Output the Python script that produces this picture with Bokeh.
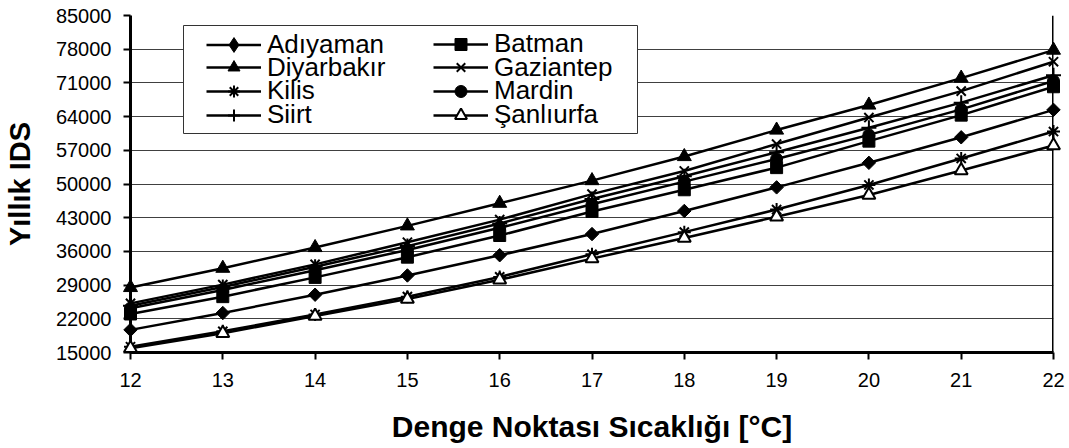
import numpy as np
from bokeh.plotting import figure
from bokeh.models import (Range1d, FixedTicker, Legend, LegendItem, Span, BoxAnnotation,
                          ColumnDataSource)
from bokeh.embed import file_html
from bokeh.resources import INLINE

# ---------------- data ----------------
temps = [12, 13, 14, 15, 16, 17, 18, 19, 20, 21, 22]
adiyaman   = [19700, 23200, 27000, 31000, 35200, 39600, 44400, 49300, 54400, 59700, 65400]
batman     = [23000, 26600, 30600, 34800, 39300, 44300, 48800, 53400, 58900, 64300, 70200]
diyarbakir = [28500, 32500, 36800, 41300, 46000, 50700, 55700, 61200, 66400, 72000, 77800]
gaziantep  = [25200, 29100, 33300, 37900, 42600, 47900, 52700, 58300, 63800, 69300, 75400]
kilis      = [16200, 19400, 22900, 26600, 30700, 35400, 40000, 44700, 49800, 55300, 60900]
mardin     = [24200, 28000, 32100, 36300, 40900, 45800, 50500, 55200, 60200, 65500, 71400]
siirt      = [24700, 28600, 32800, 37100, 41800, 46900, 51600, 56600, 61700, 66900, 72600]
sanliurfa  = [15900, 19000, 22600, 26100, 30100, 34500, 38800, 43200, 47700, 52800, 58000]

series_names = ["Adıyaman", "Batman", "Diyarbakır", "Gaziantep", "Kilis", "Mardin", "Siirt", "Şanlıurfa"]
series_values = [adiyaman, batman, diyarbakir, gaziantep, kilis, mardin, siirt, sanliurfa]
y_ticks = [15000, 22000, 29000, 36000, 43000, 50000, 57000, 64000, 71000, 78000, 85000]
x_label = "Denge Noktası Sıcaklığı [°C]"
y_label = "Yıllık IDS"

FONT = "Liberation Sans"

p = figure(width=1069, height=448, output_backend="svg", toolbar_location=None,
           x_range=Range1d(12, 22), y_range=Range1d(15000, 85000),
           min_border_left=126, min_border_right=16, min_border_top=15, min_border_bottom=96)
p.outline_line_color = None
p.background_fill_color = "white"
p.border_fill_color = "white"

# axes
p.xaxis.ticker = FixedTicker(ticks=temps)
p.yaxis.ticker = FixedTicker(ticks=y_ticks)
for ax in (p.xaxis[0], p.yaxis[0]):
    ax.axis_line_width = 3
    ax.axis_line_color = "black"
    ax.major_tick_out = 7
    ax.major_tick_in = 0
    ax.major_tick_line_width = 2
    ax.major_tick_line_color = "black"
    ax.minor_tick_line_color = None
    ax.major_label_text_font = FONT
    ax.major_label_text_font_size = "20px"
    ax.major_label_text_color = "black"
    ax.axis_label_text_font = FONT
    ax.axis_label_text_font_style = "bold"
    ax.axis_label_text_color = "black"
p.xaxis.axis_label = x_label
p.yaxis.axis_label = y_label
p.xaxis.major_label_standoff = 13
p.yaxis.major_label_standoff = 12
p.xaxis.axis_label_text_font_size = "30px"
p.yaxis.axis_label_text_font_size = "29px"
p.xaxis.axis_label_standoff = 20
p.yaxis.axis_label_standoff = 17

p.xgrid.grid_line_color = None
p.ygrid.grid_line_color = "#404040"
p.ygrid.grid_line_width = 1

# right border
p.add_layout(Span(location=22, dimension="height", line_color="black", line_width=3))

# series
markers = [
    dict(marker="square", angle=np.pi / 4, size=9.5, fill_color="black", line_color="black", line_width=1),
    dict(marker="square", size=12, fill_color="black", line_color="black", line_width=1),
    dict(marker="triangle", size=14, fill_color="black", line_color="black", line_width=1),
    dict(marker="x", size=13, fill_color=None, line_color="black", line_width=2),
    dict(marker="asterisk", size=13, fill_color=None, line_color="black", line_width=2),
    dict(marker="circle", size=12, fill_color="black", line_color="black", line_width=1),
    dict(marker="cross", size=15, fill_color=None, line_color="black", line_width=2),
    dict(marker="triangle", size=13, fill_color="white", line_color="black", line_width=2),
]

legend_entries = []
for name, vals, mk in zip(series_names, series_values, markers):
    src = ColumnDataSource(dict(x=temps, y=vals))
    r_line = p.line("x", "y", source=src, line_color="black", line_width=2.5, level="overlay")
    r_mk = p.scatter("x", "y", source=src, level="overlay", **mk)
    legend_entries.append([name, [r_line, r_mk], 30])

# legend-only diamond glyph for Adıyaman (hidden in the plot area)
r_dia = p.scatter(x=temps[:1], y=adiyaman[:1], marker="diamond", fill_color="black",
                  line_color="black", visible=False)
legend_entries[0][1] = [legend_entries[0][1][0], r_dia]
legend_entries[0][2] = 37

# legend box
p.add_layout(BoxAnnotation(left=53, right=507, top=327, bottom=219,
                           left_units="screen", right_units="screen",
                           top_units="screen", bottom_units="screen",
                           fill_color="white", fill_alpha=1.0,
                           line_color="#333333", line_width=1, line_alpha=1.0))

row_centers = [308, 284.3, 260.7, 237]
cols_vx = [76, 303]
for i, (name, rends, gh) in enumerate(legend_entries):
    row, col = divmod(i, 2)
    leg = Legend(items=[LegendItem(label=name, renderers=rends)],
                 location=(cols_vx[col], row_centers[row] - gh / 2),
                 border_line_alpha=0, background_fill_alpha=0,
                 padding=0, margin=0, spacing=0,
                 glyph_width=55, glyph_height=gh, label_height=gh,
                 label_standoff=6, label_text_font=FONT, label_text_font_size="26px",
                 label_text_color="black")
    p.add_layout(leg)

open("out.html", "w").write(file_html(p, INLINE))
